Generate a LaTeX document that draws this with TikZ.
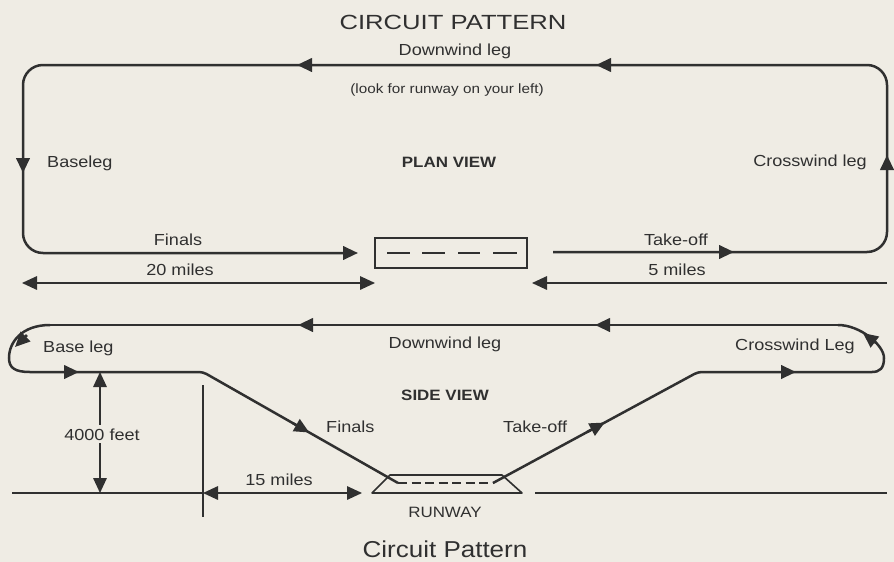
\documentclass[tikz,border=0pt]{standalone}
\usepackage{fontspec}
\setmainfont{Liberation Sans}[FakeStretch=1.13]
\newfontfamily\titlefont{Liberation Sans}[FakeStretch=1.25]
\usetikzlibrary{arrows.meta,calc}
\definecolor{bg}{RGB}{239,236,228}
\definecolor{ink}{RGB}{48,48,48}
\tikzset{
  tri/.tip={Triangle[length=15pt,width=13.5pt]},
  mainline/.style={draw=ink,line width=2.5pt},
  dimline/.style={draw=ink,line width=1.6pt},
  lbl/.style={text=ink,inner sep=0pt,font=\fontsize{16}{19}\selectfont},
  viewlbl/.style={text=ink,inner sep=0pt,font=\fontsize{15}{18}\selectfont\bfseries}
}
\begin{document}
\begin{tikzpicture}[x=1pt,y=-1pt]
\fill[bg] (0,0) rectangle (894,562);
\useasboundingbox (0,0) rectangle (894,562);

% ---------- titles ----------
\node[text=ink,inner sep=0pt,anchor=base,font=\titlefont\fontsize{20.5}{24}\selectfont] (title) at (453,29) {CIRCUIT PATTERN};
\node[text=ink,inner sep=0pt,anchor=base,font=\fontsize{23}{27}\selectfont] (subtitle) at (445,557) {Circuit Pattern};

% ---------- PLAN VIEW ----------
\coordinate (tk0) at (553,252);
\coordinate (pSE) at (887,252);
\coordinate (pNE) at (887,65);
\coordinate (pNW) at (23,65);
\coordinate (pSW) at (23,253);
\coordinate (fin1) at (358,253);
\draw[mainline,rounded corners=20pt,-tri] (tk0) -- (pSE) -- (pNE) -- (pNW) -- (pSW) -- (fin1);
% mid arrows
\draw[mainline,-tri] (700,252) -- (734,252);
\draw[mainline,-tri] (887,185) -- (887,155);
\draw[mainline,-tri] (630,65) -- (596,65);
\draw[mainline,-tri] (330,65) -- (297,65);
\draw[mainline,-tri] (23,140) -- (23,173);

% runway (plan)
\node[draw=ink,line width=1.6pt,minimum width=152pt,minimum height=30pt,inner sep=0pt] (rwplan) at (451,253) {};
\draw[mainline] (387,253) -- (410,253);
\draw[mainline] (422,253) -- (445,253);
\draw[mainline] (458,253) -- (480,253);
\draw[mainline] (493,253) -- (517,253);

% dimension arrows (plan)
\coordinate (d20a) at (22,283);
\coordinate (d20b) at (375,283);
\draw[dimline,tri-tri] (d20a) -- (d20b);
\coordinate (d5a) at (887,283);
\coordinate (d5b) at (532,283);
\draw[dimline,-tri] (d5a) -- (d5b);

% labels (plan)
\node[lbl,anchor=base] (dwplan) at (455,55) {Downwind leg};
\node[text=ink,inner sep=0pt,anchor=base,font=\fontsize{13.5}{16}\selectfont] (look) at (447,93) {(look for runway on your left)};
\node[lbl,anchor=base west] (baseleg) at (47,167) {Baseleg};
\node[viewlbl,anchor=base] (planview) at (449,167) {PLAN VIEW};
\node[lbl,anchor=base east] (cwplan) at (867,166) {Crosswind leg};
\node[lbl,anchor=base] (finplan) at (178,245) {Finals};
\node[lbl,anchor=base] (m20) at (180,275) {20 miles};
\node[lbl,anchor=base] (tkplan) at (676,245) {Take-off};
\node[lbl,anchor=base] (m5) at (677,275) {5 miles};

% ---------- SIDE VIEW ----------
\coordinate (rwL) at (398,483);
\coordinate (rwR) at (493,483);
\coordinate (toT) at (698,372);
\coordinate (cwE) at (872,372);
\coordinate (dwE) at (838,325);
\coordinate (dwW) at (50,325);
\coordinate (blW) at (30,372);
\coordinate (blE) at (203,372);

\draw[mainline,rounded corners=4pt] (rwR) -- (toT) -- (cwE);
\draw[mainline] (cwE) .. controls (880,372) and (884,368) .. (884,358)
  .. controls (884,345) and (860,325) .. (dwE);
\draw[mainline] (dwE) -- (dwW);
\draw[mainline] (dwW) .. controls (22,325) and (9,342) .. (9,358)
  .. controls (9,368) and (15,372) .. (blW);
\draw[mainline,rounded corners=4pt] (blW) -- (blE) -- (rwL);
% arrows on side view
\draw[mainline,-tri] ($(blE)!0.46!(rwL)$) -- ($(blE)!0.545!(rwL)$);
\draw[mainline,-tri] ($(rwR)!0.46!(toT)$) -- ($(rwR)!0.545!(toT)$);
\draw[mainline,-tri] (876,343) -- (863,333);
\draw[mainline,-tri] (27,335) -- (15,347);
\draw[mainline,-tri] (630,325) -- (595,325);
\draw[mainline,-tri] (330,325) -- (298,325);
\draw[mainline,-tri] (50,372) -- (79,372);
\draw[mainline,-tri] (765,372) -- (796,372);

% runway (side)
\draw[ink,line width=1.6pt,line join=round] (372,493) -- (390,475) -- (502,475) -- (522,493) -- cycle;
\draw[ink,line width=2.4pt,dash pattern=on 9pt off 4.5pt] (rwL) -- (rwR);

% ground and dimensions (side)
\coordinate (gW) at (12,493);
\coordinate (tickT) at (203,385);
\coordinate (tickB) at (203,517);
\coordinate (g15a) at (203,493);
\coordinate (g15b) at (362,493);
\coordinate (gE1) at (535,493);
\coordinate (gE2) at (887,493);
\draw[dimline] (gW) -- (g15a);
\draw[dimline] (tickT) -- (tickB);
\draw[dimline,tri-tri] (g15a) -- (g15b);
\draw[dimline] (gE1) -- (gE2);
\coordinate (h1) at (100,372);
\coordinate (h2) at (100,493);
\draw[dimline,tri-tri] (h1) -- (h2);
\node[lbl,anchor=base,fill=bg,inner ysep=3pt,inner xsep=0pt] (ft) at (102,440) {4000 feet};

% labels (side)
\node[lbl,anchor=base west] (basesd) at (43,352) {Base leg};
\node[lbl,anchor=base] (dwsd) at (445,348) {Downwind leg};
\node[lbl,anchor=base east] (cwsd) at (855,350) {Crosswind Leg};
\node[viewlbl,anchor=base] (sideview) at (445,400) {SIDE VIEW};
\node[lbl,anchor=base west] (finsd) at (326,432) {Finals};
\node[lbl,anchor=base west] (tksd) at (503,432) {Take-off};
\node[lbl,anchor=base] (m15) at (279,485) {15 miles};
\node[text=ink,inner sep=0pt,anchor=base,font=\fontsize{15}{18}\selectfont] (runway) at (445,517) {RUNWAY};
\end{tikzpicture}
\end{document}
